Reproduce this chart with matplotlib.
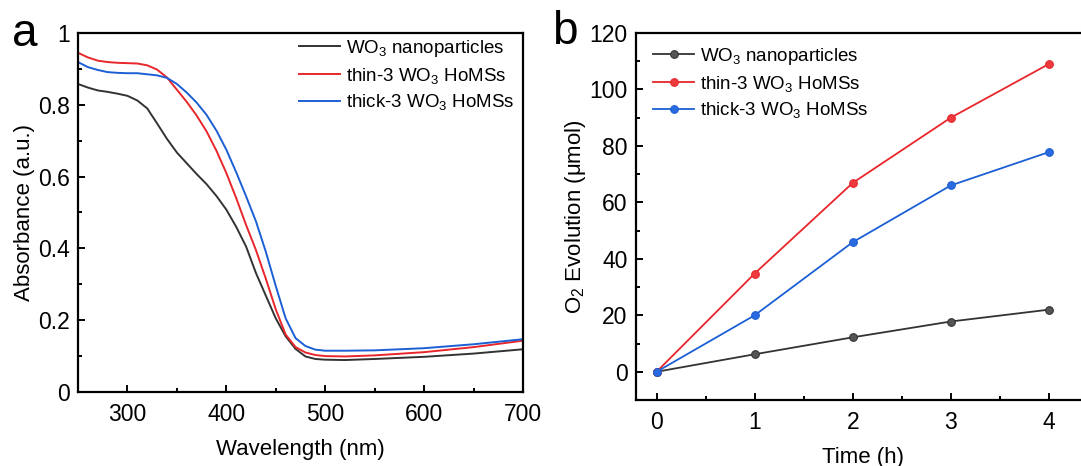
import numpy as np
import matplotlib
matplotlib.use("Agg")
import matplotlib.pyplot as plt
from matplotlib.ticker import MultipleLocator, FixedLocator

plt.rcParams['font.family'] = ['Liberation Sans', 'DejaVu Sans']
plt.rcParams['mathtext.fontset'] = 'custom'
plt.rcParams['mathtext.rm'] = 'Liberation Sans'
plt.rcParams['mathtext.it'] = 'Liberation Sans:italic'
plt.rcParams['mathtext.bf'] = 'Liberation Sans:bold'

# UV-vis absorbance spectra
wavelength = [250, 260, 270, 280, 290, 300, 310, 320, 330, 340, 350, 360, 370, 380,
              390, 400, 410, 420, 430, 440, 450, 460, 470, 480, 490, 500, 520, 550,
              600, 650, 700]
abs_np = [0.858, 0.848, 0.840, 0.836, 0.831, 0.825, 0.812, 0.790, 0.748, 0.705,
          0.667, 0.637, 0.607, 0.579, 0.546, 0.508, 0.460, 0.405, 0.331, 0.268,
          0.205, 0.155, 0.120, 0.099, 0.092, 0.090, 0.089, 0.092, 0.098, 0.107, 0.119]
abs_thin = [0.945, 0.932, 0.923, 0.919, 0.917, 0.916, 0.915, 0.910, 0.898, 0.876,
            0.842, 0.808, 0.770, 0.726, 0.672, 0.610, 0.540, 0.465, 0.395, 0.315,
            0.230, 0.160, 0.125, 0.110, 0.103, 0.100, 0.099, 0.102, 0.111, 0.125, 0.143]
abs_thick = [0.919, 0.905, 0.897, 0.891, 0.889, 0.888, 0.888, 0.885, 0.882, 0.875,
             0.858, 0.834, 0.806, 0.772, 0.728, 0.675, 0.612, 0.545, 0.475, 0.390,
             0.295, 0.205, 0.150, 0.128, 0.118, 0.115, 0.115, 0.116, 0.122, 0.133, 0.147]

# O2 evolution over time
time_h = [0, 1, 2, 3, 4]
o2_np = [0, 6.2, 12.2, 17.8, 22.0]
o2_thin = [0, 34.8, 66.9, 90.0, 109.0]
o2_thick = [0, 20.0, 45.9, 66.0, 77.8]

labels = ['WO$_3$ nanoparticles', 'thin-3 WO$_3$ HoMSs', 'thick-3 WO$_3$ HoMSs']
colors = ['#333333', '#e8262b', '#1c5fd4']
marker_colors = ['#555555', '#ec3a3e', '#2a6ae0']

W, H = 1081, 466
fig = plt.figure(figsize=(W / 100, H / 100), dpi=100)

def px_axes(x0, y0, x1, y1):
    return fig.add_axes([x0 / W, 1 - y1 / H, (x1 - x0) / W, (y1 - y0) / H])

def style(ax):
    for s in ax.spines.values():
        s.set_linewidth(1.6)
    ax.tick_params(which='both', direction='in', top=False, right=False,
                   labelsize=16.5, width=1.4)
    ax.tick_params(axis='x', pad=8)
    ax.tick_params(axis='y', pad=6)
    ax.tick_params(which='major', length=5)
    ax.tick_params(which='minor', length=3)

# panel a
ax1 = px_axes(78, 33, 523, 392)
for y, c, lab in zip([abs_np, abs_thin, abs_thick], colors, labels):
    ax1.plot(wavelength, y, color=c, lw=1.4, label=lab)
ax1.set_xlim(250, 700)
ax1.set_ylim(0, 1)
ax1.xaxis.set_major_locator(FixedLocator([300, 400, 500, 600, 700]))
ax1.xaxis.set_minor_locator(FixedLocator([350, 450, 550, 650]))
ax1.yaxis.set_minor_locator(MultipleLocator(0.1))
ax1.set_yticks([0, 0.2, 0.4, 0.6, 0.8, 1.0])
ax1.set_yticklabels(['0', '0.2', '0.4', '0.6', '0.8', '1'])
style(ax1)
ax1.set_xlabel('Wavelength (nm)', fontsize=16, labelpad=9)
ax1.set_ylabel('Absorbance (a.u.)', fontsize=16, labelpad=2)
ax1.legend(loc='upper left', bbox_to_anchor=(299 / W, 1 - 38 / H),
           bbox_transform=fig.transFigure, frameon=False, fontsize=13.5,
           handlelength=2.2, handletextpad=0.3, labelspacing=0.36, borderpad=0,
           borderaxespad=0)

# panel b
ax2 = px_axes(636, 33, 1090, 400)
for y, c, mc, lab in zip([o2_np, o2_thin, o2_thick], colors, marker_colors, labels):
    ax2.plot(time_h, y, color=c, lw=1.3, marker='o', ms=5.5,
             mfc=mc, mec=c, mew=0.8, label=lab)
ax2.set_xlim(-0.21, 4.42)
ax2.set_ylim(-10, 120)
ax2.xaxis.set_major_locator(MultipleLocator(1))
ax2.xaxis.set_minor_locator(MultipleLocator(0.5))
ax2.yaxis.set_major_locator(FixedLocator([0, 20, 40, 60, 80, 100, 120]))
ax2.yaxis.set_minor_locator(FixedLocator([10, 30, 50, 70, 90, 110]))
style(ax2)
ax2.set_xlabel('Time (h)', fontsize=16, labelpad=9)
ax2.set_ylabel('O$_2$ Evolution (μmol)', fontsize=16, labelpad=1)
ax2.legend(loc='upper left', bbox_to_anchor=(653 / W, 1 - 46 / H),
           bbox_transform=fig.transFigure, frameon=False, fontsize=13.5,
           handlelength=2.2, handletextpad=0.3, labelspacing=0.36, borderpad=0,
           borderaxespad=0)

fig.text(12 / W, 1 - 46 / H, 'a', fontsize=33, ha='left', va='baseline')
fig.text(552 / W, 1 - 44 / H, 'b', fontsize=33, ha='left', va='baseline')

fig.savefig('out.png', dpi=100)
